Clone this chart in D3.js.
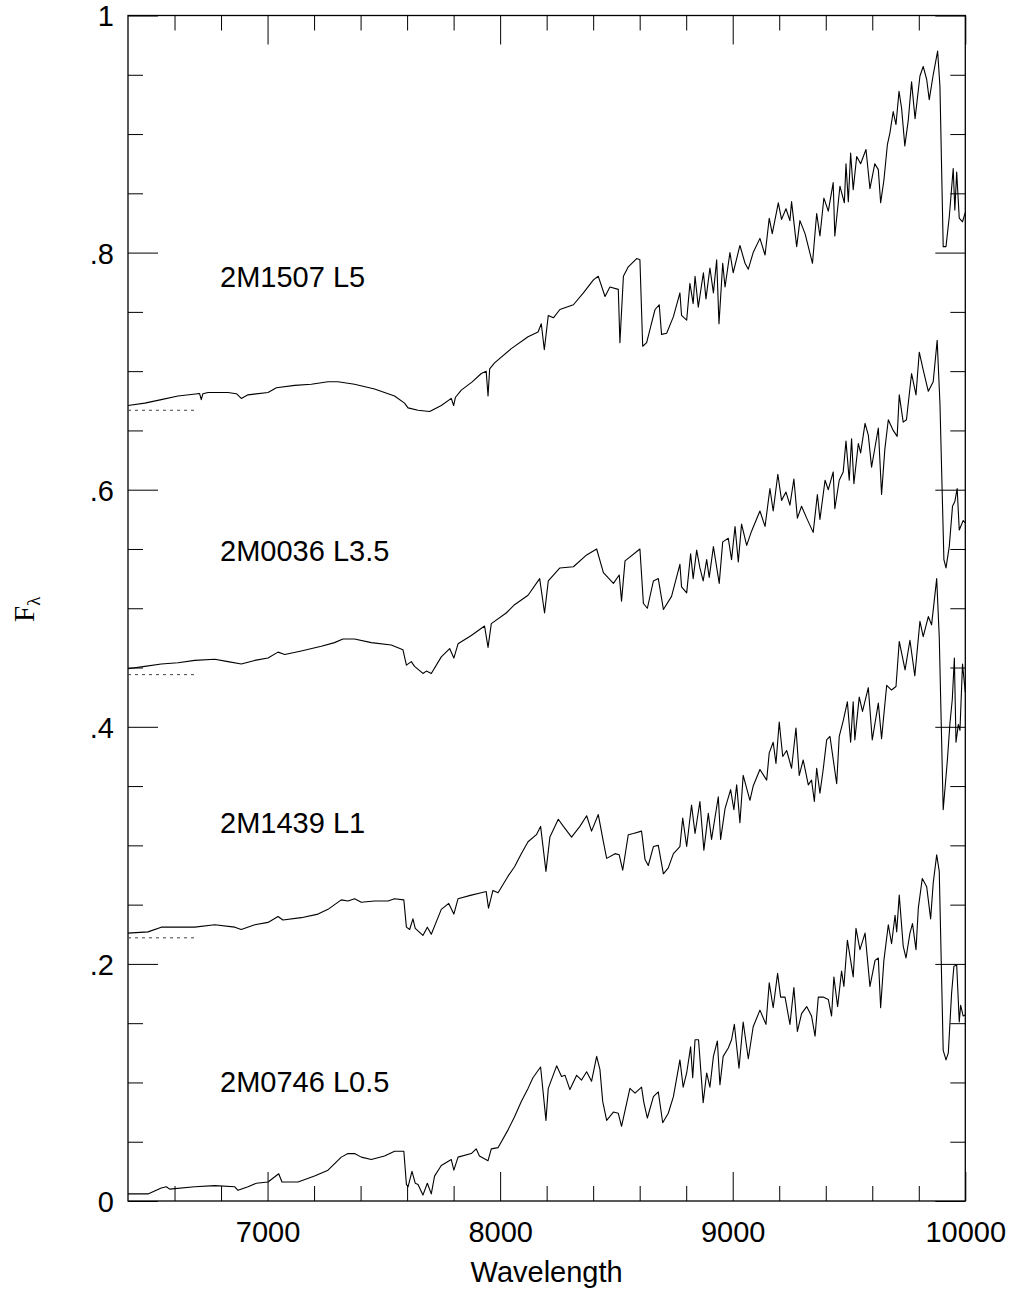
<!DOCTYPE html>
<html>
<head>
<meta charset="utf-8">
<script src="https://cdn.jsdelivr.net/npm/d3@7/dist/d3.min.js"></script>
<style>
  html, body { margin: 0; padding: 0; background: #fff; }
  svg { display: block; }
</style>
</head>
<body>
<svg id="chart" width="1013" height="1295"></svg>
<script>
// Offset optical spectra of four L dwarfs: [wavelength (Å), F_lambda + offset]
const spectrumL5 = [
  [6400,.671],[6472,.673],[6543,.676],[6615,.679],[6700,.681],[6708,.681],[6715,.676],[6722,.681],[6744,.682],[6830,.682],
  [6866,.681],[6887,.677],[6916,.680],[7002,.682],[7038,.686],[7117,.688],[7188,.689],[7260,.691],[7303,.691],[7374,.689],
  [7460,.685],[7546,.679],[7589,.673],[7604,.669],[7647,.667],[7697,.666],[7747,.671],[7790,.677],[7800,.671],[7808,.678],
  [7833,.684],[7880,.691],[7919,.698],[7940,.700],[7948,.679],[7955,.702],[7976,.707],[8048,.719],[8120,.729],[8163,.733],
  [8177,.740],[8190,.718],[8207,.747],[8229,.745],[8257,.752],[8315,.756],[8358,.766],[8401,.777],[8422,.780],[8451,.763],
  [8472,.771],[8508,.769],[8515,.724],[8530,.780],[8551,.788],[8587,.795],[8601,.794],[8613,.721],[8630,.724],[8644,.735],
  [8666,.752],[8684,.756],[8694,.731],[8716,.732],[8745,.746],[8773,.766],[8780,.747],[8802,.743],[8816,.774],[8830,.757],
  [8838,.780],[8852,.754],[8874,.783],[8885,.761],[8902,.787],[8917,.766],[8931,.794],[8941,.740],[8957,.791],[8967,.771],
  [8988,.800],[9002,.783],[9031,.806],[9053,.791],[9067,.786],[9088,.800],[9117,.812],[9139,.798],[9157,.829],[9170,.816],
  [9196,.842],[9210,.828],[9229,.837],[9246,.827],[9253,.843],[9275,.805],[9289,.827],[9311,.816],[9325,.805],[9343,.791],
  [9361,.833],[9375,.814],[9392,.846],[9411,.835],[9432,.859],[9439,.814],[9461,.856],[9480,.842],[9487,.875],[9497,.843],
  [9507,.884],[9518,.853],[9533,.881],[9550,.875],[9573,.887],[9590,.854],[9611,.875],[9626,.870],[9636,.842],[9650,.861],
  [9665,.891],[9676,.901],[9690,.919],[9702,.908],[9715,.936],[9726,.922],[9740,.890],[9755,.912],[9769,.944],[9784,.913],
  [9805,.949],[9819,.957],[9834,.946],[9845,.929],[9862,.950],[9881,.970],[9891,.940],[9905,.805],[9917,.805],[9931,.830],
  [9948,.871],[9955,.836],[9963,.868],[9974,.829],[9988,.826],[10000,.834]
];

const spectrumL35 = [
  [6400,.449],[6472,.451],[6543,.453],[6615,.454],[6687,.456],[6773,.457],[6830,.455],[6887,.453],[6945,.456],[7002,.458],
  [7045,.463],[7074,.461],[7145,.464],[7231,.468],[7288,.471],[7324,.474],[7374,.474],[7446,.471],[7532,.469],[7582,.465],
  [7597,.452],[7618,.455],[7632,.451],[7668,.445],[7683,.447],[7704,.445],[7747,.459],[7783,.466],[7801,.458],[7819,.470],
  [7876,.477],[7933,.485],[7948,.467],[7962,.487],[8026,.496],[8062,.503],[8120,.511],[8170,.525],[8191,.496],[8207,.523],
  [8257,.534],[8315,.535],[8372,.545],[8415,.550],[8444,.530],[8487,.521],[8512,.528],[8522,.506],[8537,.540],[8601,.550],
  [8616,.504],[8633,.500],[8659,.523],[8680,.525],[8702,.499],[8737,.510],[8773,.537],[8780,.518],[8802,.513],[8819,.546],
  [8830,.525],[8845,.549],[8859,.534],[8873,.523],[8888,.541],[8899,.526],[8917,.552],[8942,.521],[8957,.556],[8981,.559],
  [8995,.541],[9010,.569],[9024,.539],[9038,.571],[9060,.553],[9081,.565],[9117,.582],[9139,.569],[9160,.601],[9174,.582],
  [9194,.613],[9210,.591],[9229,.598],[9246,.587],[9263,.609],[9278,.576],[9296,.586],[9318,.576],[9346,.564],[9364,.596],
  [9375,.575],[9397,.608],[9411,.600],[9432,.615],[9439,.584],[9458,.608],[9475,.615],[9487,.641],[9501,.608],[9511,.643],
  [9521,.605],[9540,.639],[9550,.631],[9569,.656],[9583,.646],[9597,.619],[9612,.636],[9626,.652],[9640,.596],[9654,.634],
  [9669,.659],[9690,.650],[9707,.645],[9716,.680],[9733,.657],[9747,.659],[9769,.698],[9788,.680],[9802,.716],[9819,.701],
  [9841,.683],[9862,.691],[9879,.726],[9891,.673],[9908,.541],[9917,.534],[9931,.552],[9945,.586],[9955,.590],[9965,.601],
  [9974,.566],[9991,.574],[10000,.572]
];

const spectrumL1 = [
  [6400,.226],[6486,.227],[6543,.231],[6615,.231],[6687,.231],[6773,.233],[6859,.231],[6887,.229],[6945,.233],[7002,.235],
  [7045,.240],[7066,.237],[7145,.239],[7217,.242],[7260,.246],[7317,.254],[7346,.253],[7374,.255],[7403,.252],[7460,.253],
  [7518,.253],[7546,.255],[7586,.254],[7597,.231],[7611,.229],[7625,.238],[7635,.230],[7668,.224],[7687,.231],[7704,.225],
  [7747,.246],[7779,.251],[7801,.242],[7819,.255],[7876,.258],[7919,.260],[7940,.261],[7950,.247],[7969,.262],[7991,.260],
  [8034,.274],[8062,.282],[8091,.293],[8120,.303],[8156,.309],[8174,.316],[8197,.278],[8214,.307],[8250,.322],[8272,.316],
  [8307,.307],[8343,.316],[8372,.325],[8393,.312],[8422,.326],[8444,.303],[8458,.289],[8494,.293],[8512,.292],[8527,.279],
  [8551,.309],[8573,.310],[8608,.312],[8623,.288],[8637,.283],[8659,.299],[8680,.300],[8702,.276],[8723,.281],[8745,.293],
  [8773,.299],[8785,.323],[8802,.299],[8823,.334],[8838,.310],[8859,.337],[8876,.296],[8895,.327],[8909,.305],[8938,.341],
  [8948,.305],[8967,.331],[8991,.347],[9005,.330],[9017,.351],[9031,.319],[9045,.359],[9074,.338],[9088,.350],[9117,.364],
  [9146,.355],[9157,.378],[9174,.387],[9186,.369],[9200,.404],[9215,.375],[9232,.380],[9253,.365],[9272,.399],[9286,.359],
  [9303,.372],[9325,.351],[9339,.355],[9351,.337],[9361,.365],[9375,.344],[9389,.364],[9404,.389],[9418,.392],[9447,.352],
  [9458,.392],[9475,.405],[9493,.421],[9507,.387],[9518,.421],[9525,.389],[9544,.425],[9558,.413],[9583,.433],[9600,.389],
  [9626,.420],[9640,.390],[9662,.435],[9683,.431],[9702,.434],[9716,.472],[9741,.448],[9762,.473],[9783,.443],[9805,.489],
  [9819,.476],[9841,.493],[9855,.486],[9877,.525],[9888,.476],[9905,.330],[9923,.372],[9934,.403],[9944,.423],[9953,.458],
  [9960,.387],[9970,.402],[9977,.397],[9988,.453],[10000,.429]
];

const spectrumL05 = [
  [6400,.006],[6486,.006],[6543,.011],[6565,.012],[6579,.010],[6687,.012],[6773,.013],[6859,.012],[6873,.009],[6916,.012],
  [6952,.015],[7002,.016],[7048,.023],[7062,.016],[7131,.016],[7202,.021],[7260,.026],[7317,.037],[7346,.040],[7374,.040],
  [7403,.037],[7446,.035],[7503,.038],[7546,.042],[7586,.042],[7597,.014],[7604,.012],[7621,.025],[7635,.015],[7647,.014],
  [7668,.005],[7687,.015],[7704,.006],[7718,.021],[7747,.030],[7790,.035],[7801,.026],[7819,.037],[7876,.040],[7897,.044],
  [7911,.038],[7948,.034],[7962,.044],[7991,.045],[8034,.060],[8062,.071],[8091,.084],[8120,.095],[8141,.104],[8174,.113],
  [8197,.068],[8207,.095],[8243,.114],[8264,.105],[8279,.106],[8300,.094],[8329,.106],[8350,.102],[8372,.109],[8393,.101],
  [8415,.122],[8429,.111],[8441,.084],[8458,.068],[8487,.075],[8508,.074],[8522,.063],[8558,.095],[8580,.091],[8608,.096],
  [8618,.083],[8633,.070],[8659,.088],[8680,.092],[8699,.066],[8723,.074],[8745,.088],[8773,.119],[8787,.096],[8802,.108],
  [8819,.130],[8828,.104],[8838,.136],[8853,.136],[8873,.083],[8888,.108],[8902,.096],[8917,.122],[8934,.135],[8945,.098],
  [8959,.122],[8981,.129],[8995,.136],[9007,.149],[9027,.112],[9045,.151],[9067,.120],[9088,.147],[9117,.161],[9143,.149],
  [9157,.184],[9174,.163],[9193,.192],[9206,.172],[9225,.172],[9246,.149],[9263,.180],[9278,.143],[9296,.158],[9318,.164],
  [9339,.156],[9354,.139],[9368,.172],[9389,.172],[9411,.170],[9425,.156],[9435,.189],[9451,.164],[9468,.194],[9478,.181],
  [9493,.220],[9507,.203],[9518,.189],[9530,.230],[9547,.212],[9569,.226],[9590,.181],[9612,.203],[9626,.205],[9636,.163],
  [9650,.203],[9669,.233],[9683,.217],[9698,.241],[9705,.227],[9716,.258],[9733,.215],[9745,.205],[9762,.226],[9773,.234],
  [9788,.212],[9798,.247],[9815,.272],[9834,.265],[9851,.238],[9862,.268],[9877,.292],[9888,.278],[9905,.127],[9917,.119],
  [9927,.125],[9941,.175],[9951,.198],[9963,.199],[9974,.151],[9980,.165],[9991,.156],[10000,.157]
];

const spectrumNames = ["2M1507 L5", "2M0036 L3.5", "2M1439 L1", "2M0746 L0.5"];
const zeroLevels = [0.667, 0.444, 0.222];        // dotted zero points of the shifted spectra
const xMajorTicks = [7000, 8000, 9000, 10000];
const xTickLabels = ["7000", "8000", "9000", "10000"];
const yMajorTicks = [0, 0.2, 0.4, 0.6, 0.8, 1];
const yTickLabels = ["0", ".2", ".4", ".6", ".8", "1"];

// ---- layout ----
const W = 1013, H = 1295;
const L = 128, R = 965.3, T = 15.5, B = 1201;
const sansFont = "'Liberation Sans', Arial, Helvetica, sans-serif";
const serifFont = "'Liberation Serif', 'Times New Roman', Times, serif";

const x = d3.scaleLinear().domain([6400, 10000]).range([L, R]);
const y = d3.scaleLinear().domain([0, 1]).range([B, T]);

const xMinorTicks = d3.range(6600, 10000, 200).filter(v => v % 1000 !== 0);
const yMinorTicks = d3.range(0.05, 1, 0.05).filter(v => Math.abs(v * 5 - Math.round(v * 5)) > 1e-6);

const svg = d3.select("#chart");
svg.append("rect").attr("width", W).attr("height", H).attr("fill", "#fff");

function styleAxis(g) {
  g.select(".domain").remove();
  g.selectAll(".tick line").attr("stroke", "#000").attr("stroke-width", 1);
  g.selectAll(".tick text")
    .attr("font-family", sansFont)
    .attr("font-size", 29)
    .attr("fill", "#000");
}

// bottom
svg.append("g").attr("transform", `translate(0,${B})`)
  .call(d3.axisBottom(x).tickValues(xMajorTicks).tickSize(-29).tickPadding(20)
    .tickFormat((d, i) => xTickLabels[i]))
  .call(styleAxis);
svg.append("g").attr("transform", `translate(0,${B})`)
  .call(d3.axisBottom(x).tickValues(xMinorTicks).tickSize(-15).tickFormat(""))
  .call(styleAxis);
// top
svg.append("g").attr("transform", `translate(0,${T})`)
  .call(d3.axisTop(x).tickValues(xMajorTicks).tickSize(-29).tickFormat(""))
  .call(styleAxis);
svg.append("g").attr("transform", `translate(0,${T})`)
  .call(d3.axisTop(x).tickValues(xMinorTicks).tickSize(-15).tickFormat(""))
  .call(styleAxis);
// left
svg.append("g").attr("transform", `translate(${L},0)`)
  .call(d3.axisLeft(y).tickValues(yMajorTicks).tickSize(-30).tickPadding(14)
    .tickFormat((d, i) => yTickLabels[i]))
  .call(styleAxis)
  .call(g => g.selectAll(".tick text").attr("dy", "0.36em"));
svg.append("g").attr("transform", `translate(${L},0)`)
  .call(d3.axisLeft(y).tickValues(yMinorTicks).tickSize(-15).tickFormat(""))
  .call(styleAxis);
// right
svg.append("g").attr("transform", `translate(${R},0)`)
  .call(d3.axisRight(y).tickValues(yMajorTicks).tickSize(-30).tickFormat(""))
  .call(styleAxis);
svg.append("g").attr("transform", `translate(${R},0)`)
  .call(d3.axisRight(y).tickValues(yMinorTicks).tickSize(-15).tickFormat(""))
  .call(styleAxis);

// frame
svg.append("rect")
  .attr("x", L).attr("y", T).attr("width", R - L).attr("height", B - T)
  .attr("fill", "none").attr("stroke", "#000").attr("stroke-width", 1.3);

// dotted zero levels
svg.append("g").selectAll("line").data(zeroLevels).join("line")
  .attr("x1", x(6400)).attr("x2", x(6700))
  .attr("y1", d => y(d)).attr("y2", d => y(d))
  .attr("stroke", "#444").attr("stroke-width", 1)
  .attr("stroke-dasharray", "3,4");

// spectra
const line = d3.line().x(d => x(d[0])).y(d => y(d[1]));
const spectra = [spectrumL5, spectrumL35, spectrumL1, spectrumL05];
svg.append("g").selectAll("path").data(spectra).join("path")
  .attr("d", line)
  .attr("fill", "none")
  .attr("stroke", "#000")
  .attr("stroke-width", 1.1)
  .attr("stroke-linejoin", "round");

// object labels
const labelLevels = [0.771, 0.540, 0.310, 0.092];
svg.append("g").selectAll("text").data(spectrumNames).join("text")
  .attr("x", x(6800) - 1)
  .attr("y", (d, i) => y(labelLevels[i]))
  .attr("font-family", sansFont)
  .attr("font-size", 29)
  .attr("fill", "#000")
  .text(d => d);

// axis titles
svg.append("text")
  .attr("x", (L + R) / 2).attr("y", 1282)
  .attr("text-anchor", "middle")
  .attr("font-family", sansFont).attr("font-size", 29).attr("fill", "#000")
  .text("Wavelength");

const yTitle = svg.append("text")
  .attr("transform", "translate(33.5,622) rotate(-90)")
  .attr("font-family", serifFont).attr("fill", "#000");
yTitle.append("tspan").attr("font-size", 29).text("F");
yTitle.append("tspan").attr("font-size", 19).attr("dy", 6).text("λ");
</script>
</body>
</html>
